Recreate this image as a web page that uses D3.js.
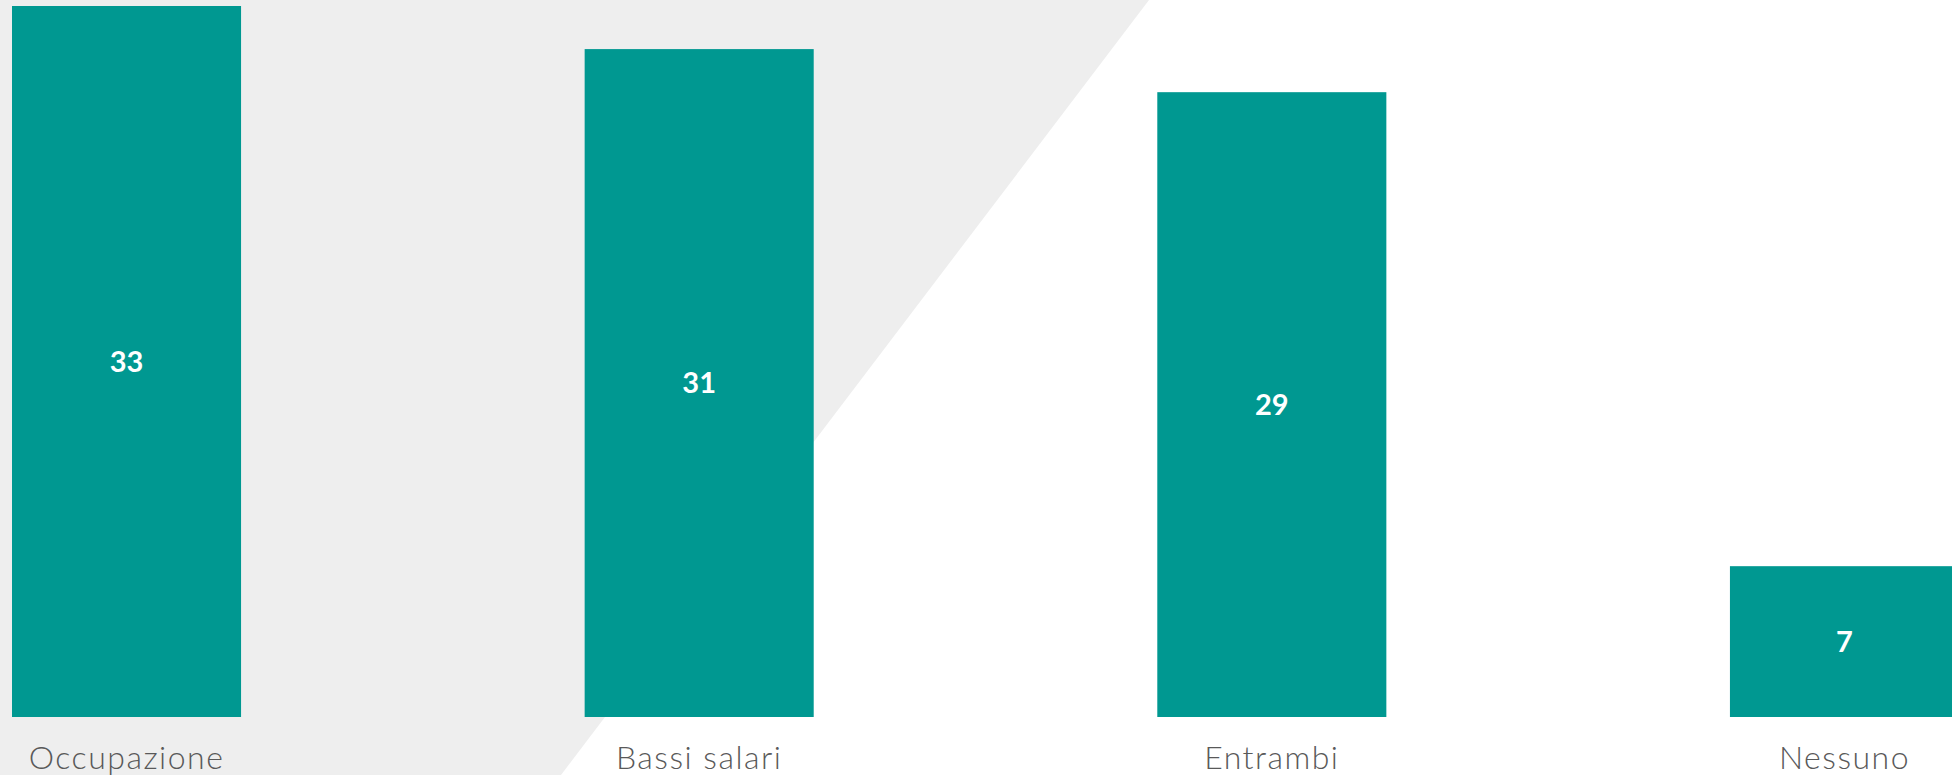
<!DOCTYPE html>
<html>
    <head>
        <meta charset="utf-8">
        <title>Occupazione e salari</title>
        <script src="https://d3js.org/d3.v7.min.js"></script>
        <style>
            body { margin: 0; background: #ffffff; overflow: hidden; }
        </style>
    </head>
    <body>
        <div id="chart"></div>
        <script>

            // data
            const categories = ["Occupazione", "Bassi salari", "Entrambi", "Nessuno"];
            const values = [33, 31, 29, 7];

            const width = 1952;
            const height = 775;

            const svg = d3.select("#chart")
                .append("svg")
                    .attr("width", width)
                    .attr("height", height);

            // grey slanted background shape
            svg.append("polygon")
                .attr("points", `0,0 1149,0 561,${height} 0,${height}`)
                .attr("fill", "#eeeeee");

            // scales
            const x = d3.scaleBand()
                .domain(categories)
                .range([12, 1959])
                .paddingInner(0.6)
                .paddingOuter(0);

            const y = d3.scaleLinear()
                .domain([0, 33])
                .range([717, 6]);

            // bars
            svg.selectAll("rect.bar")
                .data(values)
                .join("rect")
                    .attr("class", "bar")
                    .attr("x", (d, i) => x(categories[i]))
                    .attr("y", d => y(d))
                    .attr("width", x.bandwidth())
                    .attr("height", d => y(0) - y(d))
                    .attr("fill", "#009891");

            // value labels
            svg.selectAll("text.value")
                .data(values)
                .join("text")
                    .attr("class", "value")
                    .attr("x", (d, i) => x(categories[i]) + x.bandwidth() / 2)
                    .attr("y", d => (y(d) + y(0)) / 2)
                    .attr("dy", "0.36em")
                    .attr("text-anchor", "middle")
                    .attr("font-family", "Lato, sans-serif")
                    .attr("font-weight", "bold")
                    .attr("font-size", 29)
                    .attr("fill", "#ffffff")
                    .text(d => d);

            // category axis, no line or ticks
            const xAxis = svg.append("g")
                .attr("transform", `translate(0,${y(0)})`)
                .call(d3.axisBottom(x).tickSize(0).tickPadding(52));

            xAxis.select(".domain").remove();
            xAxis.selectAll("text")
                .attr("dy", 0)
                .attr("font-family", "Lato, sans-serif")
                .attr("font-weight", 300)
                .attr("font-size", 32)
                .attr("letter-spacing", 1.5)
                .attr("fill", "#595959");

        </script>
    </body>
</html>
